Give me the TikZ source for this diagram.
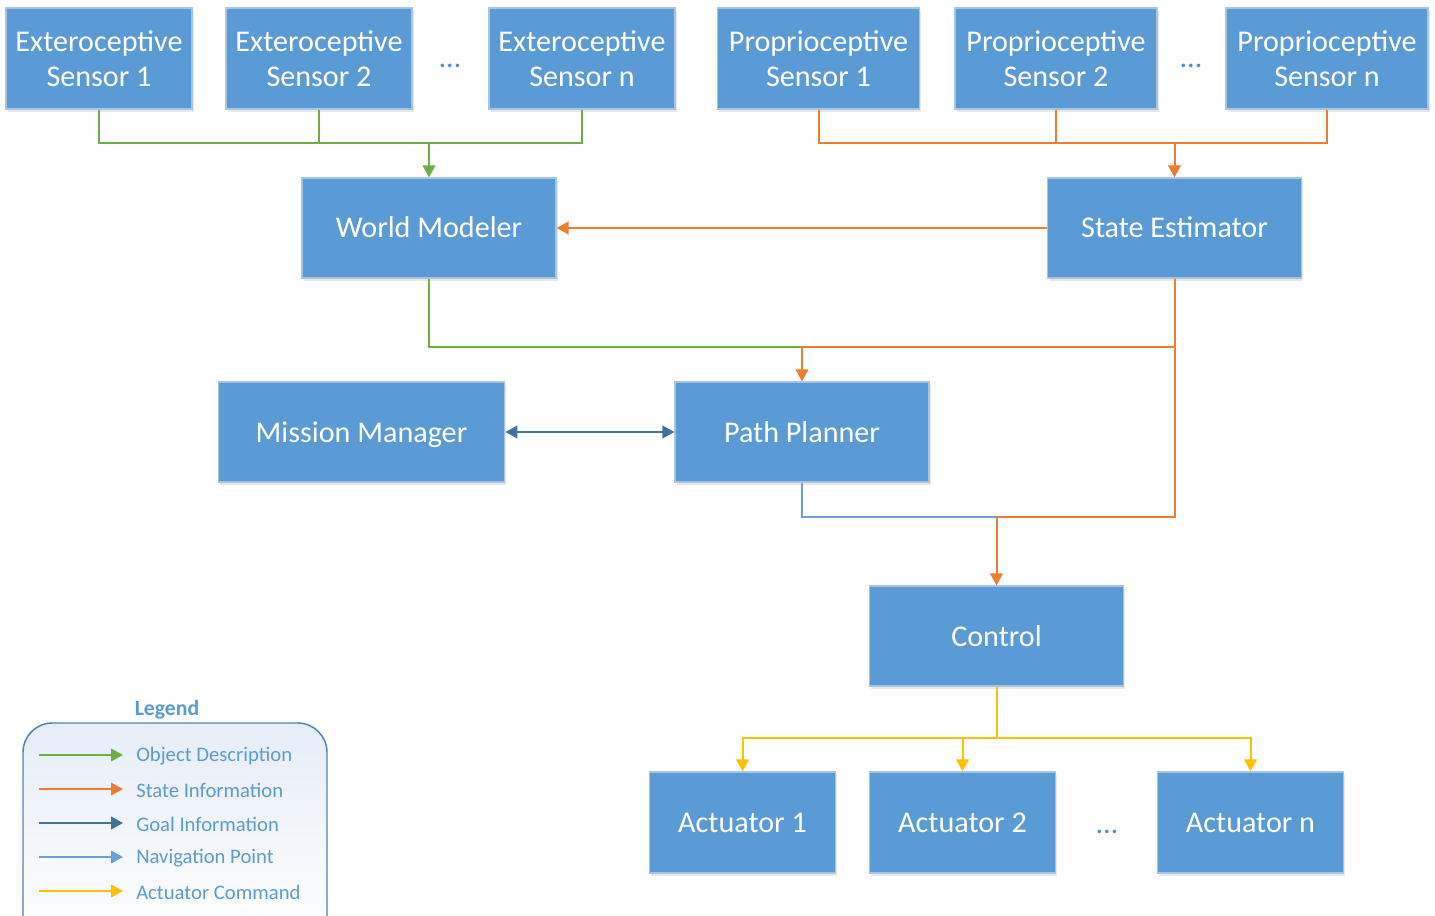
\documentclass[tikz,border=0pt]{standalone}
\usepackage{fontspec}
\setmainfont{Carlito}
\usetikzlibrary{arrows.meta,shadows,calc}
\definecolor{boxfill}{HTML}{5B9BD5}
\definecolor{boxdraw}{HTML}{A8C4E2}
\definecolor{cgreen}{HTML}{70AD47}
\definecolor{corange}{HTML}{ED7D31}
\definecolor{cdblue}{HTML}{41719C}
\definecolor{clblue}{HTML}{6F9FD4}
\definecolor{cyellow}{HTML}{FFC000}
\definecolor{legtext}{HTML}{5B9BD5}
\definecolor{legdraw}{HTML}{4F81BD}
\definecolor{legfill}{HTML}{E6EDF7}
\definecolor{dots}{HTML}{4F8ED2}
\tikzset{
  blk/.style={rectangle, fill=boxfill, draw=boxdraw, line width=0.9pt, text=white,
    font=\fontsize{22.6}{26}\selectfont, align=center, inner sep=0pt,
    drop shadow={opacity=0.18, shadow xshift=1.2pt, shadow yshift=-2pt}},
  sensor/.style={blk, minimum width=139.5pt, minimum height=75.75pt},
  sensorw/.style={blk, minimum width=151.5pt, minimum height=75.75pt},
  mid/.style={blk, minimum width=190.5pt, minimum height=75pt, text height=16pt, text depth=1pt},
  act/.style={blk, minimum width=139pt, minimum height=75.75pt, text height=16pt, text depth=1pt},
  conn/.style={line width=1.5pt},
  tip/.style={-{Triangle[length=9pt,width=9.5pt]}},
  gline/.style={conn, draw=cgreen},
  oline/.style={conn, draw=corange},
  bline/.style={conn, draw=clblue},
  dline/.style={conn, draw=cdblue},
  yline/.style={conn, draw=cyellow},
  dotsty/.style={text=dots, font=\fontsize{22.6}{26}\selectfont},
  legtxt/.style={text=legtext, font=\fontsize{15.5}{18}\selectfont, anchor=west, inner sep=0pt},
}
\begin{document}
\begin{tikzpicture}[x=0.75pt,y=-0.75pt]
\useasboundingbox (0,0) rectangle (1435,916);
% sensors
\node[sensor] (e1) at (99,58.5) {Exteroceptive\\Sensor 1};
\node[sensor] (e2) at (319,58.5) {Exteroceptive\\Sensor 2};
\node[dotsty] (ed) at (450,66) {…};
\node[sensor] (en) at (582,58.5) {Exteroceptive\\Sensor n};
\node[sensorw] (p1) at (818.5,58.5) {Proprioceptive\\Sensor 1};
\node[sensorw] (p2) at (1056,58.5) {Proprioceptive\\Sensor 2};
\node[dotsty] (pd) at (1191,66) {…};
\node[sensorw] (pn) at (1327,58.5) {Proprioceptive\\Sensor n};
% middle
\node[mid] (wm) at (429,228) {World Modeler};
\node[mid] (se) at (1174.5,228) {State Estimator};
\node[mid, minimum width=215pt] (mm) at (361.5,432) {Mission Manager};
\node[mid] (pp) at (802,432) {Path Planner};
\node[mid] (ct) at (996.5,636) {Control};
% actuators
\node[act] (a1) at (742.5,822.5) {Actuator 1};
\node[act] (a2) at (962.5,822.5) {Actuator 2};
\node[dotsty] (ad) at (1107,832) {…};
\node[act] (an) at (1250.5,822.5) {Actuator n};
% junctions
\coordinate (gj) at (429,143);
\coordinate (oj) at (1174.5,143);
\coordinate (pj) at (802,347);
\coordinate (cj) at (996.5,517);
\coordinate (aj) at (996.5,738);
% exteroceptive -> world modeler
\draw[gline] (e1.south) |- (gj);
\draw[gline] (e2.south) |- (gj);
\draw[gline] (en.south) |- (gj);
\draw[gline,tip] (gj) -- (wm.north);
% proprioceptive -> state estimator
\draw[oline] (p1.south) |- (oj);
\draw[oline] (p2.south) |- (oj);
\draw[oline] (pn.south) |- (oj);
\draw[oline,tip] (oj) -- (se.north);
% state estimator -> world modeler
\draw[oline,tip] (se.west) -- (wm.east);
% to path planner
\draw[gline] (wm.south) |- (pj);
\draw[oline] (se.south) |- (pj);
\draw[oline,tip] (pj) -- (pp.north);
% mission manager <-> path planner
\draw[dline,{Triangle[length=9pt,width=9.5pt]}-{Triangle[length=9pt,width=9.5pt]}] (mm.east) -- (pp.west);
% to control
\draw[bline] (pp.south) |- (cj);
\draw[oline] (se.south) |- (cj);
\draw[oline,tip] (cj) -- (ct.north);
% control -> actuators
\draw[yline] (ct.south) -- (aj);
\draw[yline,tip] (aj) -| (a1.north);
\draw[yline,tip] (aj) -| (a2.north);
\draw[yline,tip] (aj) -| (an.north);
% legend
\node[text=legtext, font=\bfseries\fontsize{16.3}{19}\selectfont] (lt) at (167,710) {Legend};
\draw[draw=legdraw, line width=1.1pt, rounded corners=22pt, top color=legfill, bottom color=white] (23,723) rectangle (327,950);
\coordinate (l1s) at (39,755); \coordinate (l1e) at (123,755);
\coordinate (l2s) at (39,789); \coordinate (l2e) at (123,789);
\coordinate (l3s) at (39,823); \coordinate (l3e) at (123,823);
\coordinate (l4s) at (39,857); \coordinate (l4e) at (123,857);
\coordinate (l5s) at (39,891); \coordinate (l5e) at (123,891);
\draw[gline,tip] (l1s) -- (l1e);
\draw[oline,tip] (l2s) -- (l2e);
\draw[dline,tip] (l3s) -- (l3e);
\draw[bline,tip] (l4s) -- (l4e);
\draw[yline,tip] (l5s) -- (l5e);
\node[legtxt] (t1) at (136,756) {Object Description};
\node[legtxt] (t2) at (136,790) {State Information};
\node[legtxt] (t3) at (136,824) {Goal Information};
\node[legtxt] (t4) at (136,858) {Navigation Point};
\node[legtxt] (t5) at (136,892) {Actuator Command};
\end{tikzpicture}
\end{document}
